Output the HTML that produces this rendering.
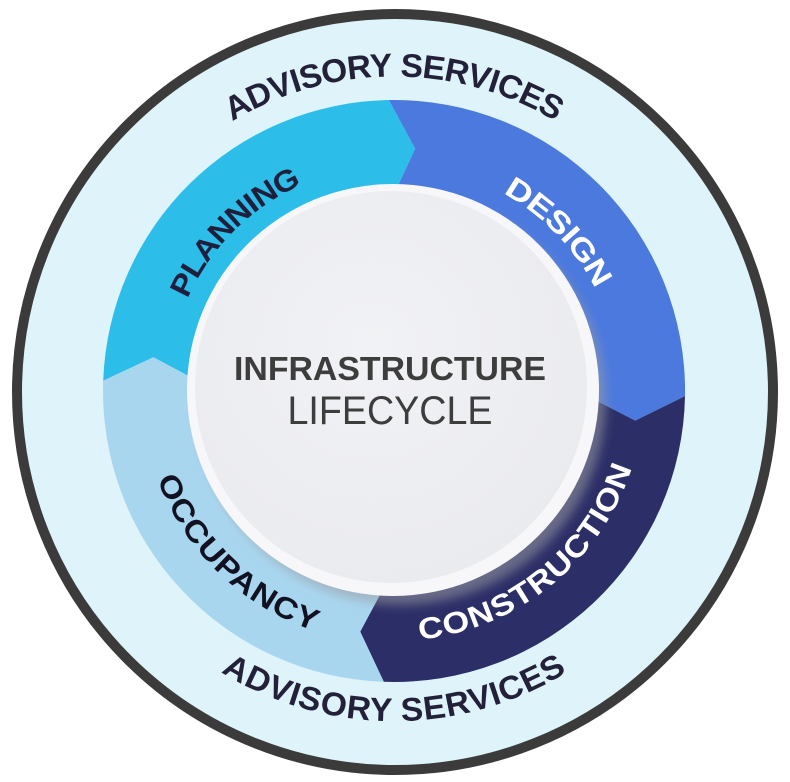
<!DOCTYPE html>
<html><head><meta charset="utf-8"><style>
html,body{margin:0;padding:0;background:#fff;}
svg{display:block;}
text{font-family:"Liberation Sans",Arial,sans-serif;}
</style></head><body>
<svg id="s" width="790" height="782" viewBox="0 0 790 782" xmlns="http://www.w3.org/2000/svg">
<defs>
<filter id="sh" x="-20%" y="-20%" width="140%" height="140%"><feGaussianBlur stdDeviation="5"/></filter>
<radialGradient id="ig" cx="45%" cy="40%" r="60%"><stop offset="0" stop-color="#f1f2f5"/><stop offset="1" stop-color="#eaebef"/></radialGradient>
</defs>
<circle cx="395" cy="392" r="378" fill="#dff3fa" stroke="#3b3b3b" stroke-width="10"/>
<g id="segs"></g>
<circle cx="401" cy="400" r="205" fill="#9a9ca3" opacity="0.55" filter="url(#sh)"/>
<circle cx="393" cy="390" r="206" fill="#f7f7f9"/>
<circle cx="391" cy="387" r="196" fill="url(#ig)"/>
<g id="labels"></g>
<text x="390" y="380" text-anchor="middle" font-size="33" font-weight="bold" fill="#3d3d3d" textLength="312" lengthAdjust="spacingAndGlyphs">INFRASTRUCTURE</text>
<text x="390" y="424" text-anchor="middle" font-size="40" fill="#3d3d3d" textLength="205" lengthAdjust="spacingAndGlyphs">LIFECYCLE</text>
</svg>
<script>
var cx=394,cy=391,Ro=291,Ri=190,Rm=243,t=6;
function P(a,r){var d=a*Math.PI/180;return (cx+r*Math.cos(d)).toFixed(1)+","+(cy+r*Math.sin(d)).toFixed(1);}
var segs=[[182,269,"#2dbde9"],[269,361,"#4b79de"],[361,452,"#2c2e67"],[452,542,"#a9d6ef"]];
var g=document.getElementById("segs"),h="";
segs.forEach(function(s){var a0=s[0],a1=s[1];
var d="M"+P(a0,Ro)+" A"+Ro+","+Ro+" 0 0 1 "+P(a1,Ro)+" L"+P(a1+t,Rm)+" L"+P(a1,Ri)+" A"+Ri+","+Ri+" 0 0 0 "+P(a0,Ri)+" L"+P(a0+t,Rm)+" Z";
h+='<path d="'+d+'" fill="'+s[2]+'"/>';});
g.innerHTML=h;
var L=document.getElementById("labels"),o="",n=0;
function lab(txt,c,r,cw,fs,col,len,adj){var id="p"+(n++);var d;
if(cw){d="M"+P(c-85,r)+" A"+r+","+r+" 0 0 1 "+P(c+85,r);}else{d="M"+P(c+85,r)+" A"+r+","+r+" 0 0 0 "+P(c-85,r);}
o+='<path id="'+id+'" d="'+d+'" fill="none"/>';
o+='<text font-size="'+fs+'" font-weight="bold" fill="'+col+'" dominant-baseline="central"><textPath href="#'+id+'" startOffset="50%" text-anchor="middle"'+(len?' textLength="'+len+'" lengthAdjust="'+adj+'"':'')+'>'+txt+'</textPath></text>';}
lab("ADVISORY SERVICES",-90,326,true,33,"#23213a",352,"spacingAndGlyphs");
lab("ADVISORY SERVICES",90,318,false,33,"#23213a",352,"spacingAndGlyphs");
lab("PLANNING",-135,236,true,30,"#1f1f3d",172,"spacingAndGlyphs");
lab("DESIGN",-44,236,true,30,"#ffffff",140,"spacingAndGlyphs");
lab("CONSTRUCTION",51,240,false,30,"#ffffff",278,"spacingAndGlyphs");
lab("OCCUPANCY",134,243,false,30,"#111122",218,"spacingAndGlyphs");
L.innerHTML=o;
</script>
</body></html>
